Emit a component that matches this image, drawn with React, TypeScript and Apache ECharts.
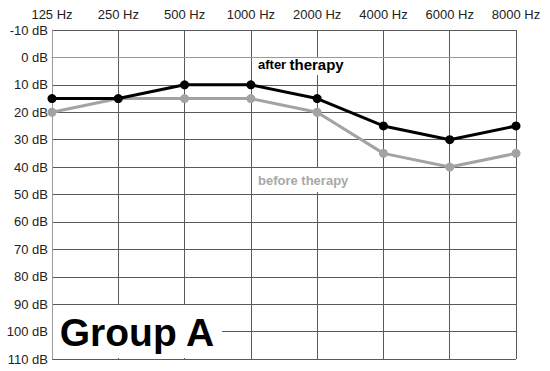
import React, { useEffect, useRef } from "react";
import * as echarts from "echarts";

const frequencies = ["125 Hz", "250 Hz", "500 Hz", "1000 Hz", "2000 Hz", "4000 Hz", "6000 Hz", "8000 Hz"];
const afterTherapy = [15, 15, 10, 10, 15, 25, 30, 25];
const beforeTherapy = [20, 15, 15, 15, 20, 35, 40, 35];
const yMin = -10;
const yMax = 110;
const yStep = 10;

const FONT = "Arial, 'Liberation Sans', sans-serif";

export default function App() {
  const ref = useRef<HTMLDivElement>(null);
  useEffect(() => {
    if (!ref.current) return;
    const chart = echarts.init(ref.current, null, { renderer: "svg" });
    chart.setOption({
      animation: false,
      backgroundColor: "#fff",
      grid: { left: 52, right: 34, top: 30, bottom: 12, containLabel: false },
      xAxis: {
        type: "category",
        position: "top",
        data: frequencies,
        boundaryGap: false,
        axisLine: { show: true, lineStyle: { color: "#999", width: 1 } },
        axisTick: { show: false },
        axisLabel: { fontFamily: FONT, fontSize: 13, color: "#222", margin: 9 },
        splitLine: { show: true, lineStyle: { color: "#5a5a5a", width: 1 } },
      },
      yAxis: {
        type: "value",
        inverse: true,
        min: yMin,
        max: yMax,
        interval: yStep,
        axisLine: { show: true, lineStyle: { color: "#999", width: 1 } },
        axisTick: { show: false },
        axisLabel: { fontFamily: FONT, fontSize: 13, color: "#222", margin: 4, formatter: "{value} dB" },
        splitLine: { show: true, lineStyle: { color: "#5a5a5a", width: 1 } },
      },
      series: [
        {
          type: "line",
          name: "before therapy",
          data: beforeTherapy,
          symbol: "circle",
          symbolSize: 9,
          lineStyle: { color: "#a3a3a3", width: 3 },
          itemStyle: { color: "#a3a3a3" },
          z: 3,
        },
        {
          type: "line",
          name: "after therapy",
          data: afterTherapy,
          symbol: "circle",
          symbolSize: 9,
          lineStyle: { color: "#000", width: 3 },
          itemStyle: { color: "#000" },
          z: 4,
        },
      ],
      graphic: [
        { type: "rect", z: 100, shape: { x: 252, y: 58, width: 96, height: 17 }, style: { fill: "#fff" } },
        {
          type: "text",
          z: 101,
          style: {
            x: 258,
            y: 64,
            text: "{a|after} {b|therapy}",
            verticalAlign: "middle",
            rich: {
              a: { fontFamily: FONT, fontSize: 13, fontWeight: "bold", fill: "#000" },
              b: { fontFamily: FONT, fontSize: 15, fontWeight: "bold", fill: "#000" },
            },
          },
        },
        { type: "rect", z: 100, shape: { x: 252, y: 168, width: 98, height: 24 }, style: { fill: "#fff" } },
        {
          type: "text",
          z: 101,
          style: {
            x: 258,
            y: 180,
            text: "before therapy",
            verticalAlign: "middle",
            fontFamily: FONT,
            fontSize: 13,
            fontWeight: "bold",
            fill: "#a8a8a8",
          },
        },
        { type: "rect", z: 100, shape: { x: 53, y: 305, width: 169, height: 53 }, style: { fill: "#fff" } },
        {
          type: "text",
          z: 101,
          style: {
            x: 137,
            y: 332,
            text: "Group A",
            align: "center",
            verticalAlign: "middle",
            fontFamily: FONT,
            fontSize: 39,
            fontWeight: "bold",
            fill: "#000",
          },
        },
      ],
    });
    return () => chart.dispose();
  }, []);
  return <div ref={ref} style={{ width: 550, height: 371, position: "absolute", left: 0, top: 0 }} />;
}
